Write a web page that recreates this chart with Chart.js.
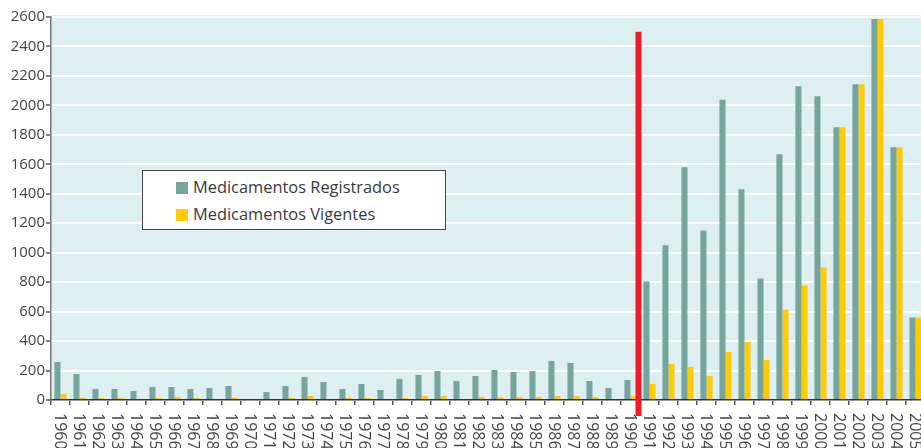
<!DOCTYPE html>
<html>
<head>
<meta charset="utf-8">
<title>Medicamentos</title>
<script src="https://cdn.jsdelivr.net/npm/chart.js"></script>
<style>
html,body{margin:0;padding:0;background:#fff;overflow:hidden;}
.wrap{position:relative;width:925px;height:448px;}
.legend{
position:absolute;left:142px;top:170px;width:302px;height:58px;
background:#fff;border:1.5px solid #444;
font-family:"Open Sans",sans-serif;font-size:16.4px;color:#3a3a3a;
}
.legend div{position:absolute;left:33px;white-space:nowrap;line-height:20px;}
.legend span{display:inline-block;width:12px;height:12px;margin-right:5px;vertical-align:-1px;}
</style>
</head>
<body>
<div class="wrap">
<canvas id="chart" width="925" height="448"></canvas>
<div class="legend">
<div style="top:6px"><span style="background:#76a59e"></span>Medicamentos Registrados</div>
<div style="top:33px"><span style="background:#ffcb05"></span>Medicamentos Vigentes</div>
</div>
</div>

<script>
const years=[];
for(let y=1960;y<=2005;y++)years.push(String(y));
const registrados=[258,176,75,75,61,88,88,75,81,95,
0,54,95,156,122,75,109,68,143,170,
197,129,163,204,190,197,265,251,129,81,
136,805,1050,1580,1150,2038,1430,825,1668,2130,
2062,1852,2144,2587,1715,560];
const vigentes=[41,14,14,14,7,14,20,14,7,14,
0,0,14,27,7,14,14,7,14,27,
27,7,20,20,20,20,27,27,20,0,
27,109,244,224,163,326,394,271,612,778,
900,1852,2144,2587,1715,560];
const yTicks=[0,200,400,600,800,1000,1200,1400,1600,1800,2000,2200,2400,2600];
const markerYear="1990";   // red line drawn just after this year
const markerTop=2500;

const plotBg={
id:"plotBg",
beforeDraw(chart){
const a=chart.chartArea,ctx=chart.ctx;
ctx.save();
ctx.fillStyle="#ddeff3";
ctx.fillRect(a.left,a.top-2,a.right-a.left,a.bottom-a.top+2);
ctx.restore();
}
};

const xLabels={
id:"xLabels",
afterDraw(chart){
const x=chart.scales.x,ctx=chart.ctx;
ctx.save();
ctx.fillStyle="#444";
ctx.font="16px 'Open Sans', sans-serif";
ctx.textAlign="left";
ctx.textBaseline="middle";
years.forEach((lab,i)=>{
const px=x.getPixelForValue(i);
ctx.save();
ctx.translate(px-1,413);
ctx.rotate(Math.PI/2);
ctx.fillText(lab,0,0);
ctx.restore();
});
ctx.restore();
}
};

const redLine={
id:"redLine",
afterDatasetsDraw(chart){
const x=chart.scales.x,y=chart.scales.y,ctx=chart.ctx;
const i=years.indexOf(markerYear);
const mid=(x.getPixelForValue(i)+x.getPixelForValue(i+1))/2-1.5;
const top=y.getPixelForValue(markerTop);
ctx.save();
ctx.fillStyle="#ee1d25";
ctx.fillRect(mid-3,top,6,y.getPixelForValue(0)+16-top);
ctx.restore();
}
};

new Chart(document.getElementById("chart"),{
type:"bar",
data:{
labels:years,
datasets:[
{label:"Medicamentos Registrados",data:registrados,backgroundColor:"#76a59e",categoryPercentage:0.64,barPercentage:1},
{label:"Medicamentos Vigentes",data:vigentes,backgroundColor:"#ffcb05",categoryPercentage:0.64,barPercentage:1}
]
},
options:{
responsive:false,
animation:false,
layout:{padding:{top:17,left:0,right:0,bottom:0}},
plugins:{legend:{display:false},tooltip:{enabled:false}},
scales:{
x:{
ticks:{display:false},
grid:{display:true,drawOnChartArea:false,drawTicks:true,tickLength:5,tickColor:"#555",offset:true,lineWidth:1.5},
border:{display:true,color:"#333",width:1.5},
afterFit(s){s.height=48;}
},
y:{
min:0,max:2600,
afterBuildTicks(s){s.ticks=yTicks.map(v=>({value:v}));},
ticks:{color:"#444",font:{family:"'Open Sans', sans-serif",size:15},padding:1,callback:v=>String(v)},
grid:{color:"#ffffff",lineWidth:2,tickColor:"#555",tickLength:5,tickWidth:1.5},
border:{display:true,color:"#777",width:1.5},
afterFit(s){s.width=51;}
}
}
},
plugins:[plotBg,redLine,xLabels]
});
</script>
</body>
</html>
